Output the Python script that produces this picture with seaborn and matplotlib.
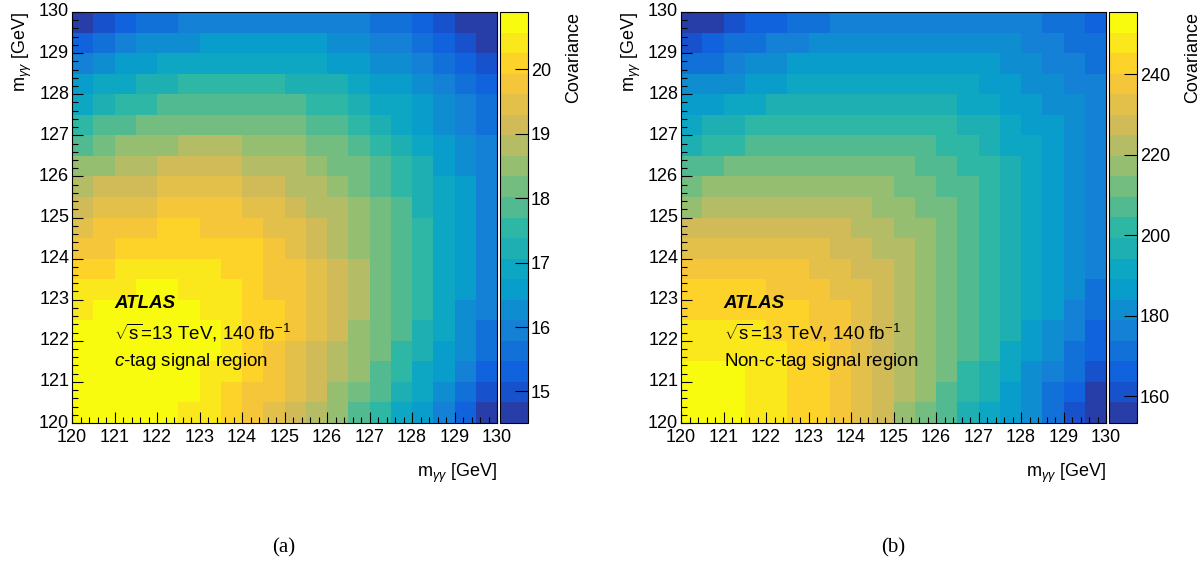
import numpy as np
import pandas as pd
import matplotlib
matplotlib.use('Agg')
import matplotlib.pyplot as plt
import seaborn as sns
from matplotlib.colors import LinearSegmentedColormap, ListedColormap
from matplotlib.ticker import MultipleLocator

sns.set_style('white')
plt.rcParams['font.family'] = ['Liberation Sans', 'DejaVu Sans']
plt.rcParams['mathtext.fontset'] = 'custom'
plt.rcParams['mathtext.rm'] = 'Liberation Sans'
plt.rcParams['mathtext.it'] = 'Liberation Sans:italic'
plt.rcParams['mathtext.bf'] = 'Liberation Sans:bold'
plt.rcParams['text.color'] = 'black'
plt.rcParams['axes.labelcolor'] = 'black'
plt.rcParams['axes.axisbelow'] = False

# m_yy bin centres (0.5 GeV bins, 120-130 GeV)
mass_bins = [120.25, 120.75, 121.25, 121.75, 122.25, 122.75, 123.25, 123.75, 124.25, 124.75,
             125.25, 125.75, 126.25, 126.75, 127.25, 127.75, 128.25, 128.75, 129.25, 129.75]
tick_labels = ['120', '121', '122', '123', '124', '125', '126', '127', '128', '129', '130']

# covariance, row 0 = lowest m_yy bin
cov_ctag = [
    [20.7, 20.7, 20.7, 20.7, 20.7, 20.4, 20.4, 20.1, 19.8, 19.5, 19.1, 18.8, 18.5, 17.9, 17.5, 16.9, 16.6, 15.9, 15.3, 14.7],
    [20.7, 20.7, 20.7, 20.7, 20.7, 20.7, 20.4, 20.1, 19.8, 19.8, 19.5, 19.1, 18.5, 18.2, 17.9, 17.2, 16.9, 16.3, 15.6, 15.0],
    [20.7, 20.7, 20.7, 20.7, 20.7, 20.7, 20.4, 20.4, 20.1, 19.8, 19.5, 19.1, 18.8, 18.5, 17.9, 17.5, 16.9, 16.6, 15.9, 15.3],
    [20.7, 20.7, 20.7, 20.7, 20.7, 20.7, 20.7, 20.4, 20.1, 19.8, 19.5, 19.1, 18.8, 18.5, 18.2, 17.5, 17.2, 16.6, 16.3, 15.6],
    [20.7, 20.7, 20.7, 20.7, 20.7, 20.7, 20.7, 20.4, 20.1, 20.1, 19.8, 19.5, 19.1, 18.5, 18.2, 17.9, 17.2, 16.9, 16.3, 15.6],
    [20.4, 20.7, 20.7, 20.7, 20.7, 20.7, 20.4, 20.4, 20.1, 20.1, 19.8, 19.5, 19.1, 18.8, 18.2, 17.9, 17.5, 16.9, 16.3, 15.9],
    [20.4, 20.4, 20.4, 20.7, 20.7, 20.4, 20.4, 20.4, 20.1, 19.8, 19.8, 19.5, 19.1, 18.8, 18.2, 17.9, 17.5, 16.9, 16.6, 15.9],
    [20.1, 20.1, 20.4, 20.4, 20.4, 20.4, 20.4, 20.1, 20.1, 19.8, 19.8, 19.5, 19.1, 18.8, 18.2, 17.9, 17.5, 16.9, 16.6, 15.9],
    [19.8, 19.8, 20.1, 20.1, 20.1, 20.1, 20.1, 20.1, 20.1, 19.8, 19.5, 19.1, 18.8, 18.5, 18.2, 17.9, 17.5, 16.9, 16.6, 15.9],
    [19.5, 19.8, 19.8, 19.8, 20.1, 20.1, 19.8, 19.8, 19.8, 19.5, 19.5, 19.1, 18.8, 18.5, 18.2, 17.9, 17.5, 16.9, 16.6, 15.9],
    [19.1, 19.5, 19.5, 19.5, 19.8, 19.8, 19.8, 19.8, 19.5, 19.5, 19.1, 18.8, 18.8, 18.5, 18.2, 17.9, 17.2, 16.9, 16.6, 15.9],
    [18.8, 19.1, 19.1, 19.1, 19.5, 19.5, 19.5, 19.5, 19.1, 19.1, 18.8, 18.8, 18.5, 18.2, 17.9, 17.5, 17.2, 16.9, 16.6, 15.9],
    [18.5, 18.5, 18.8, 18.8, 19.1, 19.1, 19.1, 19.1, 18.8, 18.8, 18.8, 18.5, 18.2, 18.2, 17.9, 17.5, 17.2, 16.6, 16.3, 15.9],
    [17.9, 18.2, 18.5, 18.5, 18.5, 18.8, 18.8, 18.8, 18.5, 18.5, 18.5, 18.2, 18.2, 17.9, 17.5, 17.2, 16.9, 16.6, 16.3, 15.9],
    [17.5, 17.9, 17.9, 18.2, 18.2, 18.2, 18.2, 18.2, 18.2, 18.2, 18.2, 17.9, 17.9, 17.5, 17.2, 16.9, 16.6, 16.3, 15.9, 15.6],
    [16.9, 17.2, 17.5, 17.5, 17.9, 17.9, 17.9, 17.9, 17.9, 17.9, 17.9, 17.5, 17.5, 17.2, 16.9, 16.9, 16.6, 16.3, 15.9, 15.6],
    [16.6, 16.9, 16.9, 17.2, 17.2, 17.5, 17.5, 17.5, 17.5, 17.5, 17.2, 17.2, 17.2, 16.9, 16.6, 16.6, 16.3, 15.9, 15.6, 15.3],
    [15.9, 16.3, 16.6, 16.6, 16.9, 16.9, 16.9, 16.9, 16.9, 16.9, 16.9, 16.9, 16.6, 16.6, 16.3, 16.3, 15.9, 15.6, 15.3, 15.0],
    [15.3, 15.6, 15.9, 16.3, 16.3, 16.3, 16.6, 16.6, 16.6, 16.6, 16.6, 16.6, 16.3, 16.3, 15.9, 15.9, 15.6, 15.3, 15.0, 14.7],
    [14.7, 15.0, 15.3, 15.6, 15.6, 15.9, 15.9, 15.9, 15.9, 15.9, 15.9, 15.9, 15.9, 15.9, 15.6, 15.6, 15.3, 15.0, 14.7, 14.7],
]

cov_nonctag = [
    [253, 253, 253, 248, 248, 243, 243, 238, 232, 227, 217, 212, 207, 197, 192, 187, 181, 171, 161, 156],
    [253, 253, 253, 248, 248, 243, 243, 238, 232, 227, 222, 217, 207, 202, 197, 187, 181, 171, 166, 156],
    [253, 253, 253, 248, 248, 243, 243, 238, 232, 227, 222, 217, 212, 202, 197, 192, 181, 176, 171, 161],
    [248, 248, 248, 248, 248, 243, 243, 238, 232, 227, 222, 217, 212, 207, 202, 192, 187, 181, 171, 166],
    [248, 248, 248, 248, 243, 243, 238, 238, 232, 227, 222, 217, 212, 207, 202, 197, 187, 181, 176, 166],
    [243, 243, 243, 243, 243, 243, 238, 238, 232, 227, 222, 217, 212, 207, 202, 197, 192, 187, 176, 171],
    [243, 243, 243, 243, 238, 238, 238, 232, 232, 227, 222, 217, 212, 207, 202, 197, 192, 187, 181, 171],
    [238, 238, 238, 238, 238, 238, 232, 232, 227, 227, 222, 217, 212, 207, 202, 197, 192, 187, 181, 176],
    [232, 232, 232, 232, 232, 232, 232, 227, 227, 222, 222, 217, 212, 207, 202, 197, 192, 187, 181, 176],
    [227, 227, 227, 227, 227, 227, 227, 227, 222, 222, 217, 217, 212, 207, 202, 197, 192, 187, 181, 176],
    [217, 222, 222, 222, 222, 222, 222, 222, 222, 217, 217, 212, 212, 207, 202, 197, 192, 187, 181, 176],
    [212, 217, 217, 217, 217, 217, 217, 217, 217, 217, 212, 212, 207, 207, 202, 197, 192, 187, 181, 176],
    [207, 207, 212, 212, 212, 212, 212, 212, 212, 212, 212, 207, 207, 202, 202, 197, 192, 187, 181, 176],
    [197, 202, 202, 207, 207, 207, 207, 207, 207, 207, 207, 207, 202, 202, 197, 192, 192, 187, 181, 176],
    [192, 197, 197, 202, 202, 202, 202, 202, 202, 202, 202, 202, 202, 197, 197, 192, 187, 187, 181, 176],
    [187, 187, 192, 192, 197, 197, 197, 197, 197, 197, 197, 197, 197, 192, 192, 187, 187, 181, 181, 176],
    [181, 181, 181, 187, 187, 192, 192, 192, 192, 192, 192, 192, 192, 192, 187, 187, 181, 181, 176, 176],
    [171, 171, 176, 181, 181, 187, 187, 187, 187, 187, 187, 187, 187, 187, 187, 181, 181, 176, 176, 171],
    [161, 166, 171, 171, 176, 176, 181, 181, 181, 181, 181, 181, 181, 181, 181, 181, 176, 176, 171, 171],
    [156, 156, 161, 166, 166, 171, 171, 176, 176, 176, 176, 176, 176, 176, 176, 176, 176, 171, 171, 166],
]

# colour axis ranges and ticks
ctag_range = (14.51, 20.89)
nonctag_range = (153.4, 255.5)
ctag_ticks = [15, 16, 17, 18, 19, 20]
nonctag_ticks = [160, 180, 200, 220, 240]

# ROOT kBird palette, drawn with 20 contour levels
bird_stops = [0.0, 0.125, 0.25, 0.375, 0.5, 0.625, 0.75, 0.875, 1.0]
bird_red = [0.2082, 0.0592, 0.0780, 0.0232, 0.1802, 0.5301, 0.8186, 0.9956, 0.9764]
bird_green = [0.1664, 0.3599, 0.5041, 0.6419, 0.7178, 0.7492, 0.7328, 0.7862, 0.9832]
bird_blue = [0.5293, 0.8684, 0.8385, 0.7914, 0.6425, 0.4662, 0.3499, 0.1968, 0.0539]
n_levels = 20

bird = LinearSegmentedColormap.from_list(
    'bird', list(zip(bird_stops, zip(bird_red, bird_green, bird_blue))), N=255)
level_cmap = ListedColormap([bird(int((k + 0.99) * 255 / n_levels)) for k in range(n_levels)])

W, H = 1203, 565
fig = plt.figure(figsize=(W / 100, H / 100), dpi=100)


def draw_panel(x0, data, zrange, cticks, region, letter, letter_x):
    ax = fig.add_axes([x0 / W, 1 - 423 / H, 425 / W, 411 / H])
    cax = fig.add_axes([(x0 + 428) / W, 1 - 423 / H, 28 / W, 411 / H])
    df = pd.DataFrame(data, index=mass_bins, columns=mass_bins)
    sns.heatmap(df, ax=ax, cbar_ax=cax, cmap=level_cmap, vmin=zrange[0], vmax=zrange[1],
                linewidths=0, cbar_kws={'ticks': cticks})
    ax.invert_yaxis()
    ax.set_axisbelow(False)
    cax.set_axisbelow(False)

    ax.set_xticks(np.arange(0, 21, 2))
    ax.set_xticklabels(tick_labels, rotation=0)
    ax.set_yticks(np.arange(0, 21, 2))
    ax.set_yticklabels(tick_labels, rotation=0)
    ax.xaxis.set_minor_locator(MultipleLocator(0.4))
    ax.yaxis.set_minor_locator(MultipleLocator(0.4))
    ax.tick_params(which='both', direction='in', bottom=True, left=True, top=False, right=False,
                   color='black', width=0.8, labelsize=13, labelcolor='black')
    ax.tick_params(which='major', length=8)
    ax.tick_params(which='minor', length=4)
    ax.tick_params(axis='x', which='both', pad=4)
    ax.tick_params(axis='y', which='both', pad=2)
    for s in ax.spines.values():
        s.set_visible(True)
        s.set_color('black')
        s.set_linewidth(0.8)

    ax.set_xlabel(r'm$_{\gamma\gamma}$ [GeV]', loc='right', fontsize=13, labelpad=12, color='black')
    ax.set_ylabel(r'm$_{\gamma\gamma}$ [GeV]', loc='top', fontsize=13, labelpad=4, color='black')

    cbar = ax.collections[0].colorbar
    cbar.outline.set_edgecolor('black')
    cbar.outline.set_linewidth(0.8)
    cax.tick_params(direction='in', length=9.5, width=0.8, right=True, left=False,
                    labelsize=13, pad=2, color='black', labelcolor='black')
    cax.minorticks_off()
    cax.set_ylabel('Covariance', loc='top', fontsize=13, labelpad=10, color='black')

    ax.text(0.10, 0.280, 'ATLAS', transform=ax.transAxes, fontsize=13.5, color='black',
            fontweight='bold', fontstyle='italic', va='baseline')
    ax.text(0.10, 0.204, r'$\sqrt{\mathrm{s}}$=13 TeV, 140 fb$^{-1}$', transform=ax.transAxes,
            fontsize=13.5, color='black', va='baseline')
    ax.text(0.10, 0.139, region, transform=ax.transAxes, fontsize=13.5, color='black',
            va='baseline')

    fig.text(letter_x / W, 1 - 548 / H, letter, ha='center', va='center', fontsize=15,
             family='Liberation Serif', color='black')


draw_panel(72, cov_ctag, ctag_range, ctag_ticks, r'$c$-tag signal region', '(a)', 284)
draw_panel(681, cov_nonctag, nonctag_range, nonctag_ticks, r'Non-$c$-tag signal region', '(b)', 893)

plt.savefig('out.png', dpi=100)
plt.close()
